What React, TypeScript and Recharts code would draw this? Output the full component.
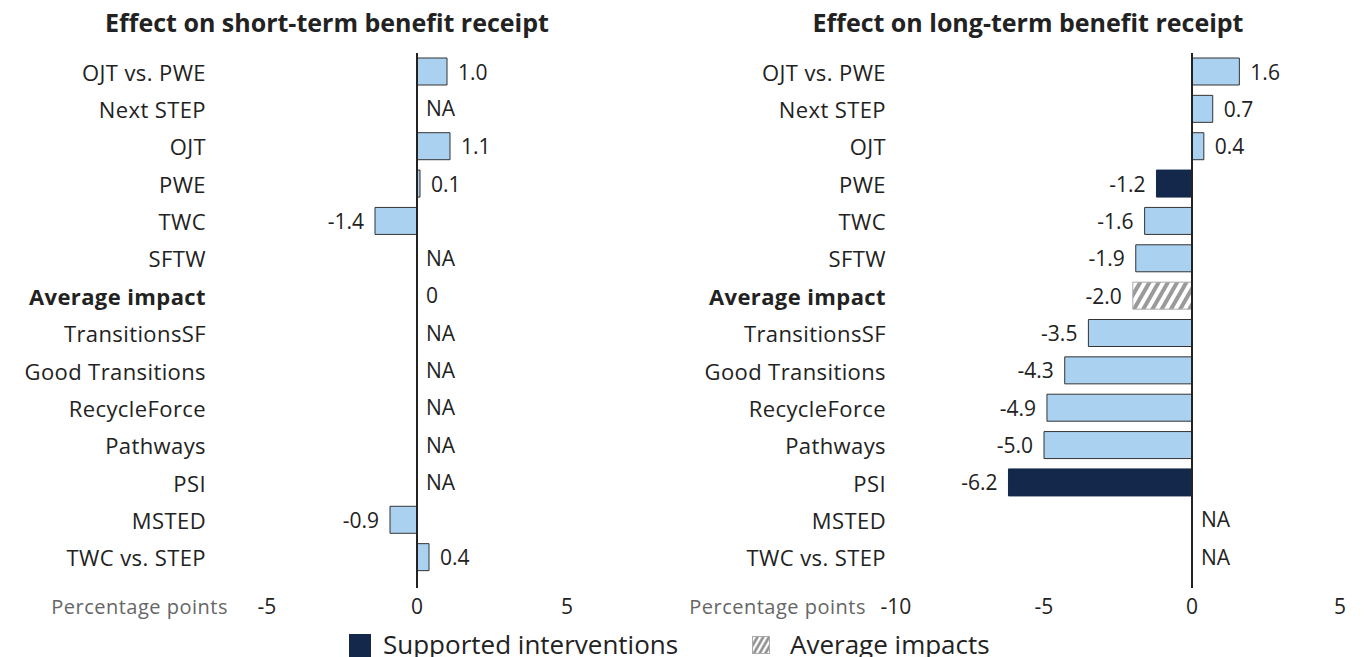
import React from "react";
import { BarChart, Bar, XAxis, YAxis, ReferenceLine, ReferenceDot, LabelList, Cell } from "recharts";

const categories = [
  "OJT vs. PWE",
  "Next STEP",
  "OJT",
  "PWE",
  "TWC",
  "SFTW",
  "Average impact",
  "TransitionsSF",
  "Good Transitions",
  "RecycleForce",
  "Pathways",
  "PSI",
  "MSTED",
  "TWC vs. STEP",
];

// null = NA in the source
const shortTermValues: (number | null)[] = [1.0, null, 1.1, 0.1, -1.4, null, 0, null, null, null, null, null, -0.9, 0.4];
const longTermValues: (number | null)[] = [1.6, 0.7, 0.4, -1.2, -1.6, -1.9, -2.0, -3.5, -4.3, -4.9, -5.0, -6.2, null, null];

const shortTermSupported: string[] = [];
const longTermSupported = ["PWE", "PSI"];
const averageRow = "Average impact";

const shortTicks = [-5, 0, 5];
const longTicks = [-10, -5, 0, 5];

const FONT = '"Open Sans", sans-serif';
const LIGHT = "#abd1f0";
const NAVY = "#14284c";
const INK = "#222";

function buildRows(values: (number | null)[], supported: string[]) {
  return categories.map((name, i) => {
    const v = values[i];
    return {
      name,
      value: v ?? 0,
      label: v === null ? "NA" : v === 0 ? "0" : v.toFixed(1),
      kind: name === averageRow ? "avg" : supported.includes(name) ? "sup" : "base",
    };
  });
}

const CategoryTick = (props: any) => {
  const { x, y, payload } = props;
  const bold = payload.value === averageRow;
  return (
    <text
      x={x}
      y={y}
      textAnchor="end"
      dominantBaseline="central"
      fontSize={22}
      letterSpacing={0.4}
      fontWeight={bold ? 700 : 400}
      fill={INK}
      fontFamily={FONT}
    >
      {payload.value}
    </text>
  );
};

const ValueLabel = (props: any) => {
  const { x, y, width, height, value } = props;
  if (value === "NA" || value === "0") return null;
  const x0 = Number(x);
  const w = Number(width) || 0;
  const left = Math.min(x0, x0 + w);
  const right = Math.max(x0, x0 + w);
  const neg = typeof value === "string" && value.startsWith("-");
  return (
    <text
      x={neg ? left - 11 : right + 11}
      y={Number(y) + Number(height) / 2}
      textAnchor={neg ? "end" : "start"}
      dominantBaseline="central"
      fontSize={21}
      fill={INK}
      fontFamily={FONT}
    >
      {value}
    </text>
  );
};

interface PanelProps {
  id: string;
  title: string;
  titleCenter: number;
  rows: ReturnType<typeof buildRows>;
  ticks: number[];
  left: number;
  axisWidth: number;
  labelGap: number;
  rightMargin: number;
  unitOffset: number;
}

function Panel({ id, title, titleCenter, rows, ticks, left, axisWidth, labelGap, rightMargin, unitOffset }: PanelProps) {
  return (
    <>
      <div
        style={{
          position: "absolute",
          left: titleCenter - 400,
          top: 7,
          width: 800,
          textAlign: "center",
          fontFamily: FONT,
          fontWeight: 700,
          fontSize: 25,
          lineHeight: "30px",
          color: INK,
        }}
      >
        {title}
      </div>
      <div style={{ position: "absolute", left, top: 0 }}>
        <BarChart
          width={682}
          height={640}
          data={rows}
          layout="vertical"
          margin={{ top: 53, right: rightMargin, bottom: 14, left: 0 }}
        >
          <defs>
            <pattern id={id} width="8" height="8" patternUnits="userSpaceOnUse" patternTransform="rotate(30)">
              <rect width="8" height="8" fill="#fff" />
              <line x1="2" y1="0" x2="2" y2="8" stroke="#9a9a9a" strokeWidth="4" />
            </pattern>
          </defs>
          <XAxis
            type="number"
            domain={[ticks[0], ticks[ticks.length - 1]]}
            ticks={ticks}
            axisLine={false}
            tickLine={false}
            tickSize={0}
            tickMargin={11}
            height={38}
            tick={{ fontSize: 21, fill: INK, fontFamily: FONT }}
            label={{
              value: "Percentage points",
              position: "left",
              offset: unitOffset,
              fontSize: 20,
              letterSpacing: 0.5,
              fill: "#666",
              fontFamily: FONT,
            }}
          />
          <YAxis
            type="category"
            dataKey="name"
            width={axisWidth}
            axisLine={false}
            tickLine={false}
            tickSize={0}
            tickMargin={labelGap}
            interval={0}
            padding={{ top: 0, bottom: 12 }}
            tick={<CategoryTick />}
          />
          <Bar dataKey="value" barSize={27} isAnimationActive={false}>
            {rows.map((r, i) => (
              <Cell
                key={i}
                fill={r.kind === "sup" ? NAVY : r.kind === "avg" ? `url(#${id})` : LIGHT}
                stroke={r.kind === "sup" ? NAVY : r.kind === "avg" ? "#aaa" : "#333"}
                strokeWidth={1}
              />
            ))}
            <LabelList dataKey="label" content={<ValueLabel />} />
          </Bar>
          <ReferenceLine x={0} stroke={INK} strokeWidth={2} />
          {rows
            .filter((r) => r.label === "NA" || r.label === "0")
            .map((r) => (
              <ReferenceDot
                key={r.name}
                x={0}
                y={r.name}
                r={0}
                fill="none"
                stroke="none"
                label={{
                  value: r.label,
                  position: "right",
                  offset: 9,
                  fontSize: 21,
                  fill: INK,
                  fontFamily: FONT,
                }}
              />
            ))}
        </BarChart>
      </div>
    </>
  );
}

export default function App() {
  const shortRows = buildRows(shortTermValues, shortTermSupported);
  const longRows = buildRows(longTermValues, longTermSupported);
  return (
    <div style={{ position: "absolute", left: 0, top: 0, width: 1364, height: 657, background: "#fff", overflow: "hidden" }}>
      <Panel
        id="hatch-short"
        title="Effect on short-term benefit receipt"
        titleCenter={327}
        rows={shortRows}
        ticks={shortTicks}
        left={0}
        axisWidth={267}
        labelGap={61}
        rightMargin={115}
        unitOffset={39}
      />
      <Panel
        id="hatch-long"
        title="Effect on long-term benefit receipt"
        titleCenter={1028}
        rows={longRows}
        ticks={longTicks}
        left={682}
        axisWidth={214}
        labelGap={10}
        rightMargin={24}
        unitOffset={30}
      />
      <svg style={{ position: "absolute", left: 0, top: 626 }} width={1364} height={31}>
        <defs>
          <pattern id="hatch-legend" width="5" height="5" patternUnits="userSpaceOnUse" patternTransform="rotate(30)">
            <rect width="5" height="5" fill="#fff" />
            <line x1="1.5" y1="0" x2="1.5" y2="5" stroke="#8a8a8a" strokeWidth="2.5" />
          </pattern>
        </defs>
        <rect x={349} y={8} width={22} height={23} fill={NAVY} />
        <text x={383} y={28} fontSize={26} fill={INK} fontFamily={FONT}>
          Supported interventions
        </text>
        <rect x={752.5} y={10.5} width={17} height={17} fill="url(#hatch-legend)" stroke="#aaa" />
        <text x={790} y={28} fontSize={26} fill={INK} fontFamily={FONT}>
          Average impacts
        </text>
      </svg>
    </div>
  );
}
